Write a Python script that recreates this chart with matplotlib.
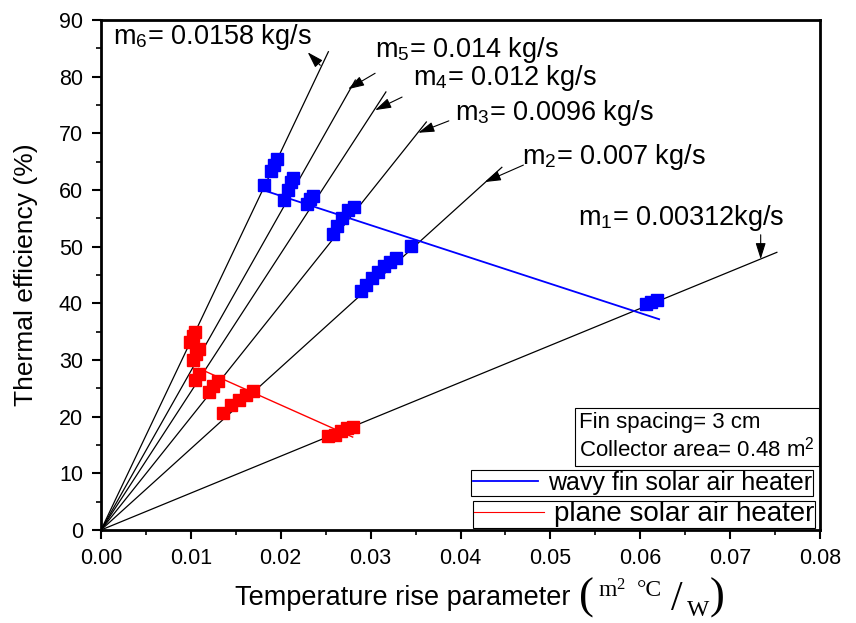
import matplotlib
matplotlib.use("Agg")
import matplotlib.pyplot as plt
from matplotlib.lines import Line2D

plt.rcParams['font.family'] = ['Liberation Sans', 'DejaVu Sans']
plt.rcParams['mathtext.fontset'] = 'custom'
plt.rcParams['mathtext.rm'] = 'Liberation Serif'
plt.rcParams['mathtext.it'] = 'Liberation Serif:italic'
plt.rcParams['mathtext.sf'] = 'Liberation Sans'

# flow-rate lines through origin: end points
flow_labels = ['m$_\\mathsf{1}$= 0.00312kg/s', 'm$_\\mathsf{2}$= 0.007 kg/s', 'm$_\\mathsf{3}$= 0.0096 kg/s',
               'm$_\\mathsf{4}$= 0.012 kg/s', 'm$_\\mathsf{5}$= 0.014 kg/s', 'm$_\\mathsf{6}$= 0.0158 kg/s']
line_x_end = [0.0752, 0.0446, 0.0362, 0.0317, 0.0283, 0.0253]
line_y_end = [49.0, 64.0, 72.0, 77.3, 79.4, 84.4]

# wavy fin (blue) measured points
wavy_x = [0.0189, 0.0192, 0.0196, 0.0181,
          0.0204, 0.0208, 0.0211, 0.0214,
          0.0229, 0.0233, 0.0236,
          0.0258, 0.0263, 0.0268, 0.0275, 0.0282,
          0.0289, 0.0295, 0.0302, 0.0308, 0.0315, 0.0322, 0.0328, 0.0345,
          0.0606, 0.0612, 0.0619]
wavy_y = [63.3, 64.4, 65.5, 60.9,
          58.2, 60.0, 61.4, 62.1,
          57.5, 58.4, 58.9,
          52.2, 53.6, 55.1, 56.5, 57.0,
          42.2, 43.2, 44.5, 45.5, 46.6, 47.3, 48.0, 50.1,
          39.9, 40.2, 40.6]
wavy_fit_x = [0.0182, 0.0621]
wavy_fit_y = [59.9, 37.2]

# plane (red) measured points
plane_x = [0.0099, 0.0102, 0.0105,
           0.0102, 0.0106, 0.0109,
           0.0105, 0.0109,
           0.0120, 0.0125, 0.0130,
           0.01357, 0.01447, 0.01536, 0.01613, 0.0169,
           0.0253, 0.0260, 0.0267, 0.0274, 0.0280]
plane_y = [33.2, 34.2, 34.9,
           30.0, 31.1, 31.9,
           26.5, 27.5,
           24.4, 25.4, 26.3,
           20.6, 22.1, 22.9, 23.8, 24.5,
           16.6, 16.8, 17.5, 18.0, 18.2]
plane_fit_x = [0.0109, 0.0280]
plane_fit_y = [28.5, 16.4]

# annotation positions (label anchor, arrow tail, arrow head)
label_pos = [(0.0531, 55.1), (0.0468, 65.8), (0.0394, 73.6), (0.0347, 79.8), (0.0305, 84.7), (0.00134, 87.0)]
arrow_tail = [(0.0734, 52.1), (0.0470, 64.4), (0.0387, 72.2), (0.0335, 76.4), (0.0305, 80.6), (0.0244, 82.0)]
arrow_head = [(0.0734, 47.8), (0.0427, 61.4), (0.0353, 70.1), (0.0305, 74.1), (0.0275, 77.8), (0.0230, 84.3)]

x_ticks = [0.00, 0.01, 0.02, 0.03, 0.04, 0.05, 0.06, 0.07, 0.08]
x_tick_labels = ['0.00', '0.01', '0.02', '0.03', '0.04', '0.05', '0.06', '0.07', '0.08']
y_ticks = [0, 10, 20, 30, 40, 50, 60, 70, 80, 90]

fig = plt.figure(figsize=(8.56, 6.23), dpi=100)
ax = fig.add_axes([101/856, 93/623, 719/856, 510/623])

for xe, ye in zip(line_x_end, line_y_end):
    ax.plot([0, xe], [0, ye], color='black', lw=0.9, zorder=2)

ax.plot(wavy_fit_x, wavy_fit_y, color='blue', lw=1.3, zorder=3)
ax.plot(plane_fit_x, plane_fit_y, color='red', lw=1.0, zorder=3)
ax.plot(wavy_x, wavy_y, 's', color='blue', ms=8.5, mec='blue', zorder=4)
ax.plot(plane_x, plane_y, 's', color='red', ms=8.5, mec='red', zorder=4)

for lab, lp, t, h in zip(flow_labels, label_pos, arrow_tail, arrow_head):
    ax.text(lp[0], lp[1], lab, fontsize=19.5, ha='left', va='center', zorder=5)
    ax.annotate('', xy=h, xytext=t,
                arrowprops=dict(arrowstyle='-|>,head_length=0.7,head_width=0.22', color='black', lw=0.8,
                                mutation_scale=14, shrinkA=0, shrinkB=0))

ax.set_xlim(0, 0.08)
ax.set_ylim(0, 90)
ax.set_xticks(x_ticks)
ax.set_xticks([0.005, 0.015, 0.025, 0.035, 0.045, 0.055, 0.065, 0.075], minor=True)
ax.set_yticks(y_ticks)
ax.set_yticks([5, 15, 25, 35, 45, 55, 65, 75, 85], minor=True)
ax.set_xticklabels(x_tick_labels, fontsize=15.5)
ax.set_yticklabels([str(v) for v in y_ticks], fontsize=15.5)
ax.tick_params(which='major', direction='out', length=6.5, width=1.5, top=False, right=False, pad=6.5)
ax.tick_params(which='minor', direction='out', length=3.5, width=1.2, top=False, right=False)
for s in ax.spines.values():
    s.set_linewidth(2)

ax.set_ylabel('Thermal efficiency (%)', fontsize=19)
ax.yaxis.set_label_coords(-0.088, 0.5)
fig.text(235/856, 1 - 598/623, 'Temperature rise parameter', fontsize=19.5, ha='left', va='center')
serif = 'Liberation Serif'
fig.text(586/856, 1 - 598/623, '(', family=serif, fontsize=32, ha='center', va='center')
fig.text(717/856, 1 - 598/623, ')', family=serif, fontsize=32, ha='center', va='center')
fig.text(598/856, 1 - 591/623, 'm$^{2}$', family=serif, fontsize=17, ha='left', va='center')
fig.text(637/856, 1 - 591/623, '°C', family=serif, fontsize=17, ha='left', va='center')
fig.text(677/856, 1 - 600/623, '/', family=serif, fontsize=30, ha='center', va='center')
fig.text(687/856, 1 - 610/623, 'W', family=serif, fontsize=17, ha='left', va='center')

# info box
ax.text((579-101)/719, (530-437)/510, 'Fin spacing= 3 cm\nCollector area= 0.48 m$^{\\mathsf{2}}$',
        transform=ax.transAxes, fontsize=16, ha='left', va='center', linespacing=1.2,
        bbox=dict(boxstyle='square,pad=0.2', fc='white', ec='black', lw=0.8), zorder=6)

h1 = Line2D([], [], color='blue', lw=1.3)
h2 = Line2D([], [], color='red', lw=0.8)
leg1 = ax.legend([h1], ['wavy fin solar air heater'], loc='lower right',
                 bbox_to_anchor=((813-101)/719, (530-496)/510), fontsize=18,
                 frameon=True, fancybox=False, edgecolor='black', framealpha=1,
                 borderpad=0.05, handlelength=2.6, handletextpad=0.4, borderaxespad=0)
leg1.get_frame().set_linewidth(0.8)
ax.add_artist(leg1)
leg2 = ax.legend([h2], ['plane solar air heater'], loc='lower right',
                 bbox_to_anchor=((815-101)/719, (530-528)/510), fontsize=20,
                 frameon=True, fancybox=False, edgecolor='black', framealpha=1,
                 borderpad=0.02, handlelength=2.55, handletextpad=0.35, borderaxespad=0)
leg2.get_frame().set_linewidth(0.8)

fig.savefig('out.png', dpi=100)
